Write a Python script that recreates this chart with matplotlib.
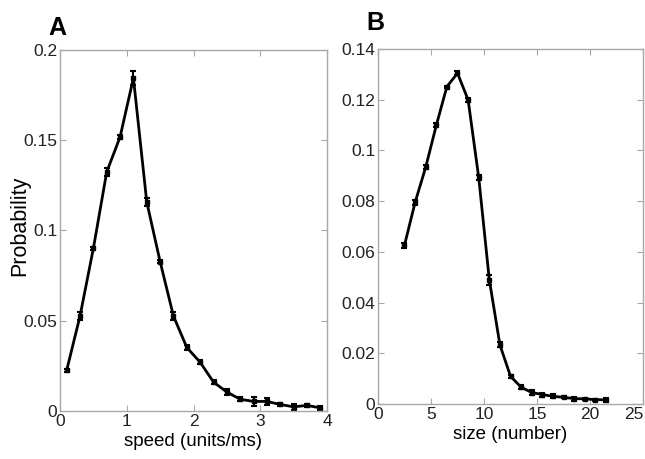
import matplotlib
matplotlib.use("Agg")
import matplotlib.pyplot as plt
import numpy as np

plt.rcParams['font.family'] = ['Liberation Sans', 'DejaVu Sans']

# Data - panel A (speed)
speed = [0.1, 0.3, 0.5, 0.7, 0.9, 1.1, 1.3, 1.5, 1.7, 1.9,
         2.1, 2.3, 2.5, 2.7, 2.9, 3.1, 3.3, 3.5, 3.7, 3.9]
prob_speed = [0.0224, 0.0525, 0.0900, 0.1324, 0.1518, 0.1845, 0.1157, 0.0827, 0.0525, 0.0351,
              0.0269, 0.0159, 0.0104, 0.0064, 0.0052, 0.0052, 0.0035, 0.0022, 0.0030, 0.0016]
err_speed = [0.0008, 0.0020, 0.0008, 0.0020, 0.0012, 0.0040, 0.0020, 0.0008, 0.0020, 0.0012,
             0.0012, 0.0010, 0.0016, 0.0010, 0.0025, 0.0018, 0.0010, 0.0015, 0.0010, 0.0010]

# Data - panel B (size)
size = [2.5, 3.5, 4.5, 5.5, 6.5, 7.5, 8.5, 9.5, 10.5, 11.5,
        12.5, 13.5, 14.5, 15.5, 16.5, 17.5, 18.5, 19.5, 20.5, 21.5]
prob_size = [0.0626, 0.0795, 0.0934, 0.1099, 0.1252, 0.1305, 0.1200, 0.0894, 0.0490, 0.0233,
             0.0109, 0.0066, 0.0045, 0.0037, 0.0030, 0.0026, 0.0021, 0.0020, 0.0017, 0.0016]
err_size = [0.0010, 0.0010, 0.0008, 0.0008, 0.0004, 0.0008, 0.0008, 0.0010, 0.0020, 0.0010,
            0.0005, 0.0008, 0.0008, 0.0008, 0.0008, 0.0004, 0.0008, 0.0004, 0.0004, 0.0008]

fig = plt.figure(figsize=(6.45, 4.59), dpi=100)
axA = fig.add_axes([0.093, 0.105, 0.414, 0.786])
axB = fig.add_axes([0.586, 0.120, 0.411, 0.773])


def style(ax):
    for s in ax.spines.values():
        s.set_color('#a8a8a8')
        s.set_linewidth(1)
    ax.tick_params(direction='in', top=True, right=True, colors='#a8a8a8',
                   labelcolor='#222222', labelsize=12.5, length=4, pad=2)


axA.errorbar(speed, prob_speed, yerr=err_speed, color='black', lw=2,
             marker='s', ms=3, capsize=2.5, elinewidth=1.5, capthick=1.5)
axA.set_xlim(0, 4)
axA.set_ylim(0, 0.2)
axA.set_xticks([0, 1, 2, 3, 4])
axA.set_yticks([0, 0.05, 0.1, 0.15, 0.2])
axA.set_yticklabels(['0', '0.05', '0.1', '0.15', '0.2'])
axA.set_xlabel('speed (units/ms)', fontsize=13.5, labelpad=3)
style(axA)

axB.errorbar(size, prob_size, yerr=err_size, color='black', lw=2,
             marker='s', ms=3, capsize=2.5, elinewidth=1.5, capthick=1.5)
axB.set_xlim(0, 25)
axB.set_ylim(0, 0.14)
axB.set_xticks([0, 5, 10, 15, 20, 25])
axB.set_yticks([0, 0.02, 0.04, 0.06, 0.08, 0.1, 0.12, 0.14])
axB.set_yticklabels(['0', '0.02', '0.04', '0.06', '0.08', '0.1', '0.12', '0.14'])
axB.set_xlabel('size (number)', fontsize=13.5, labelpad=3)
style(axB)
# keep the last tick label inside the canvas, as in the reference
axB.get_xticklabels()[-1].set_horizontalalignment('right')

fig.text(20 / 645, 1 - 226 / 459, 'Probability', fontsize=15.5, rotation=90,
         va='center', ha='center')
fig.text(57 / 645, 1 - 28 / 459, 'A', fontsize=18, fontweight='bold', va='center', ha='center')
fig.text(375 / 645, 1 - 23 / 459, 'B', fontsize=18, fontweight='bold', va='center', ha='center')

fig.savefig('out.png', dpi=100)
plt.close(fig)
